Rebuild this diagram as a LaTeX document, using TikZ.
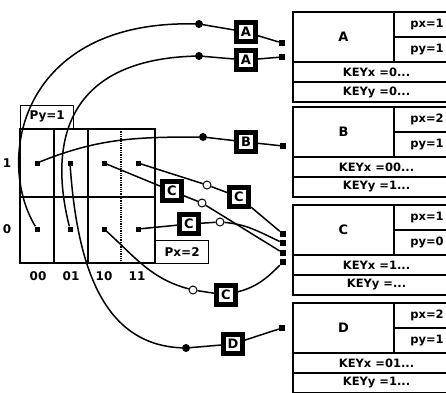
\documentclass[tikz,border=0pt]{standalone}
\usepackage{fontspec}
\setmainfont{DejaVu Sans}
\usetikzlibrary{positioning}

\begin{document}
\begin{tikzpicture}[x=1pt, y=-1pt,
  gridline/.style={line width=1.3pt},
  wire/.style={line width=1.5pt},
  cellpt/.style={rectangle, fill=black, inner sep=0pt, minimum size=5pt},
  endpt/.style={rectangle, fill=black, inner sep=0pt, minimum size=6pt},
  joint/.style={circle, fill=black, inner sep=0pt, minimum size=8pt},
  hollow/.style={circle, draw=black, line width=1pt, fill=white, inner sep=0pt, minimum size=8pt},
  tag/.style={rectangle, draw=black, line width=5pt, fill=white, inner sep=0pt,
              minimum size=19pt, font=\fontsize{13}{13}\selectfont\bfseries},
  lbl/.style={font=\fontsize{12}{12}\selectfont\bfseries},
  lblbox/.style={rectangle, draw, line width=1.3pt, inner sep=0pt, minimum width=53pt,
                 minimum height=23pt, font=\fontsize{12}{12}\selectfont\bfseries},
  recname/.style={rectangle, draw, line width=1.5pt, inner sep=0pt, minimum width=101pt,
                  minimum height=50pt, font=\fontsize{13}{13}\selectfont\bfseries},
  recp/.style={rectangle, draw, line width=1.5pt, inner sep=0pt, minimum width=66pt,
               minimum height=25pt, font=\fontsize{11.5}{11.5}\selectfont\bfseries},
  reckey/.style={rectangle, draw, line width=1.5pt, inner sep=0pt, minimum width=167pt,
                 minimum height=20pt, font=\fontsize{11.5}{11.5}\selectfont\bfseries}
]
\useasboundingbox (0,0) rectangle (446,392);
\clip (0,0) rectangle (446,392);

% grid of cells
\draw[gridline] (20,129) rectangle (155,263);
\draw[gridline] (54,129) -- (54,263);
\draw[gridline] (88,129) -- (88,263);
\draw[gridline, densely dotted] (121,129) -- (121,263);
\draw[gridline] (20,197) -- (155,197);
\node[lblbox, anchor=south west] (pybox) at (20,129) {Py=1};
\node[lblbox, anchor=north west] (pxbox) at (155,240) {Px=2};

\node[lbl] (row1) at (7,163) {1};
\node[lbl] (row0) at (7,229) {0};
\node[lbl] (col00) at (38,276) {00};
\node[lbl] (col01) at (71,276) {01};
\node[lbl] (col10) at (104,276) {10};
\node[lbl] (col11) at (137,276) {11};

\node[cellpt] (c001) at (37,163) {};
\node[cellpt] (c011) at (70,163) {};
\node[cellpt] (c101) at (104,163) {};
\node[cellpt] (c111) at (138,163) {};
\node[cellpt] (c000) at (37,229) {};
\node[cellpt] (c010) at (70,229) {};
\node[cellpt] (c100) at (104,229) {};
\node[cellpt] (c110) at (138,229) {};

% records
\node[recname] (ra) at (343.5,37) {A};
\node[recp]    (rapx) at (427,24.5) {px=1};
\node[recp]    (rapy) at (427,49.5) {py=1};
\node[reckey]  (rakx) at (376.5,72) {KEYx =0...};
\node[reckey]  (raky) at (376.5,92) {KEYy =0...};

\node[recname] (rb) at (343.5,132) {B};
\node[recp]    (rbpx) at (427,119.5) {px=2};
\node[recp]    (rbpy) at (427,144.5) {py=1};
\node[reckey]  (rbkx) at (376.5,167) {KEYx =00...};
\node[reckey]  (rbky) at (376.5,187) {KEYy =1...};

\node[recname] (rc) at (343.5,230) {C};
\node[recp]    (rcpx) at (427,217.5) {px=1};
\node[recp]    (rcpy) at (427,242.5) {py=0};
\node[reckey]  (rckx) at (376.5,265) {KEYx =1...};
\node[reckey]  (rcky) at (376.5,285) {KEYy =...};

\node[recname] (rd) at (343.5,328) {D};
\node[recp]    (rdpx) at (427,315.5) {px=2};
\node[recp]    (rdpy) at (427,340.5) {py=1};
\node[reckey]  (rdkx) at (376.5,363) {KEYx =01...};
\node[reckey]  (rdky) at (376.5,383) {KEYy =1...};

% pointer ends
\node[endpt] (ea1) at (282,43) {};
\node[endpt] (ea2) at (282,57) {};
\node[endpt] (eb)  at (283,146) {};
\node[endpt] (ec3) at (283,234) {};
\node[endpt] (ec1) at (283,243) {};
\node[endpt] (ec2) at (283,253) {};
\node[endpt] (ec4) at (283,262) {};
\node[endpt] (ed)  at (282,328) {};

% joints and tags
\node[joint] (ja1) at (199,24) {};
\node[joint] (ja2) at (199,56) {};
\node[joint] (jb)  at (203,137) {};
\node[joint] (jd)  at (186,348) {};
\node[hollow] (oc1) at (202,203) {};
\node[hollow] (oc2) at (220,222) {};
\node[hollow] (oc3) at (207,185) {};
\node[hollow] (oc4) at (193,290) {};

\node[tag] (ta1) at (246,32) {A};
\node[tag] (ta2) at (246,60) {A};
\node[tag] (tb)  at (246,142) {B};
\node[tag] (tc1) at (172,191) {C};
\node[tag] (tc2) at (189,224) {C};
\node[tag] (tc3) at (239,197) {C};
\node[tag] (tc4) at (226,295) {C};
\node[tag] (td)  at (233,344) {D};

% wires
\draw[wire] (c000) .. controls (-5,160) and (20,20) .. (ja1);
\draw[wire] (ja1) -- (ta1) -- (ea1);
\draw[wire] (c010) .. controls (50,150) and (60,60) .. (ja2);
\draw[wire] (ja2) -- (ta2) -- (ea2);
\draw[wire] (c001) to[out=22,in=180] (jb);
\draw[wire] (jb) -- (tb) -- (eb);
\draw[wire] (c111) -- (oc3) -- (tc3) -- (ec3);
\draw[wire] (c101) -- (tc1) -- (oc1) -- (ec2);
\draw[wire] (c110) -- (tc2) -- (oc2);
\draw[wire] (oc2) to[out=-5,in=155] (ec1);
\draw[wire] (c100) to[out=-42,in=165] (oc4);
\draw[wire] (oc4) -- (tc4);
\draw[wire] (tc4) to[out=15,in=225] (ec4);
\draw[wire] (c011) .. controls (78,280) and (110,345) .. (jd);
\draw[wire] (jd) -- (td) -- (ed);
\end{tikzpicture}
\end{document}
